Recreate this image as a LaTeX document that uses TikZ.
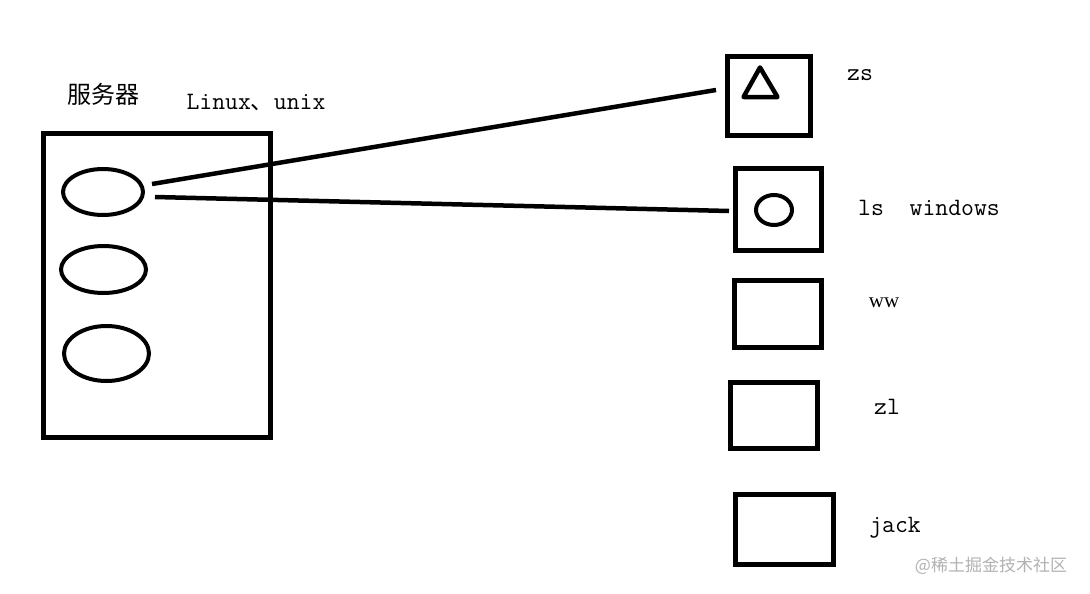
\documentclass[tikz,border=0pt]{standalone}
\usepackage{fontspec}
\newfontfamily\cjk{Noto Sans CJK SC}
\newfontfamily\serifw{Liberation Serif}
\usetikzlibrary{shapes.geometric}
\tikzset{
  box/.style={draw=black, line width=5pt, rectangle, inner sep=0pt},
  oval/.style={draw=black, line width=4pt, ellipse, inner sep=0pt},
  link/.style={draw=black, line width=4.5pt},
  lbl/.style={inner sep=0pt, font=\fontsize{25}{28}\selectfont\ttfamily},
  cjklbl/.style={inner sep=0pt, font=\fontsize{24}{28}\selectfont\cjk},
  wmark/.style={inner sep=0pt, text=black!30, font=\fontsize{17}{20}\selectfont\cjk}
}
\begin{document}
\begin{tikzpicture}[x=1pt,y=-1pt]
\useasboundingbox[fill=white] (0,0) rectangle (1090,594);
% server box
\node[box, minimum width=227pt, minimum height=304pt] (srv) at (157,285.5) {};
\node[oval, minimum width=80pt, minimum height=46pt] (e1) at (103,192) {};
\node[oval, minimum width=85pt, minimum height=47pt] (e2) at (103.5,269.5) {};
\node[oval, minimum width=85pt, minimum height=55pt] (e3) at (106.5,353.5) {};
\node[cjklbl] (srvlbl) at (103,94) {服务器};
\node[lbl] (os) at (256,103) {Linux{\cjk\fontsize{23}{26}\selectfont 、}unix};
% client boxes
\node[box, minimum width=83pt, minimum height=79pt] (zs) at (769,96) {};
\node[box, minimum width=86pt, minimum height=82pt] (ls) at (778.5,209.5) {};
\node[box, minimum width=87pt, minimum height=67pt] (ww) at (778,314) {};
\node[box, minimum width=87pt, minimum height=66pt] (zl) at (774,415.5) {};
\node[box, minimum width=98pt, minimum height=70pt] (jack) at (784.5,529.5) {};
% symbols inside
\draw[line width=4.5pt, line join=round] (760,67.5) -- (777.5,97) -- (743.5,97) -- cycle;
\node[oval, minimum width=36pt, minimum height=30pt] (circ) at (774,210) {};
% labels
\node[lbl] (zslbl) at (860,75) {zs};
\node[lbl] (lslbl) at (929,208) {ls~~windows};
\node[inner sep=0pt, font=\fontsize{21}{24}\selectfont\serifw] (wwlbl) at (884,303) {ww};
\node[lbl] (zllbl) at (887,407) {zl};
\node[lbl] (jacklbl) at (895,528) {jack};
\node[wmark] (wm) at (991,566) {@稀土掘金技术社区};
% connectors
\coordinate (s1) at (152,184);
\coordinate (t1) at (716,90);
\coordinate (s2) at (155,197);
\coordinate (t2) at (729,211);
\draw[link] (s1) -- (t1);
\draw[link] (s2) -- (t2);
\end{tikzpicture}
\end{document}
